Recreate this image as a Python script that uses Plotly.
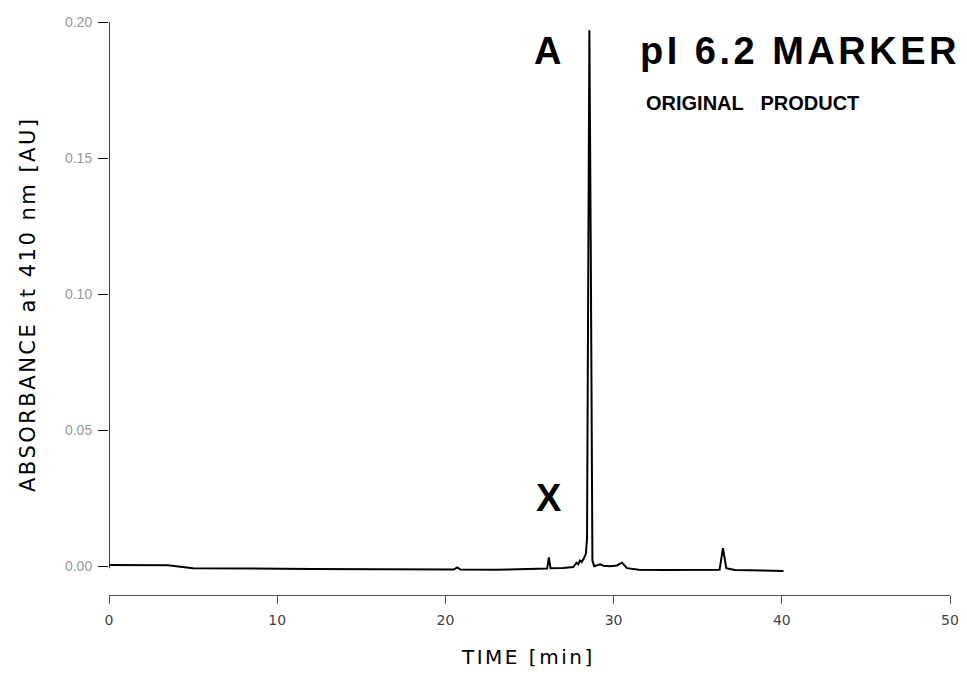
import plotly.graph_objects as go

# Chromatogram trace (time in min, absorbance in AU)
time_min = [0.0, 3.5, 5.0, 8.0, 12.0, 16.0, 19.0, 20.5, 20.7, 20.9, 23.0, 25.5,
            26.05, 26.15, 26.25, 27.0, 27.6, 27.8, 27.9, 28.0, 28.1, 28.25, 28.35,
            28.42, 28.5, 28.56, 28.64, 28.74, 28.85, 29.1, 29.2, 29.4, 29.8, 30.2,
            30.5, 30.8, 31.5, 33.0, 35.0, 36.3, 36.5, 36.7, 37.2, 38.5, 40.1]
absorbance = [0.0004, 0.0003, -0.0008, -0.0010, -0.0011, -0.0012, -0.0013, -0.0013,
              -0.0005, -0.0013, -0.0014, -0.0010, -0.0009, 0.0032, -0.0008, -0.0007,
              -0.0004, 0.0012, 0.0006, 0.0020, 0.0015, 0.0030, 0.0045, 0.0100, 0.1200,
              0.1970, 0.1200, 0.0020, -0.0001, 0.0003, 0.0006, 0.0001, -0.0001,
              0.0002, 0.0012, -0.0008, -0.0014, -0.0015, -0.0016, -0.0014, 0.0066,
              -0.0008, -0.0015, -0.0016, -0.0018]

x_ticks = [0, 10, 20, 30, 40, 50]
y_ticks = [0.00, 0.05, 0.10, 0.15, 0.20]

FONT = "DejaVu Sans"
SANS = "Liberation Sans"

fig = go.Figure()
fig.add_trace(go.Scatter(x=time_min, y=absorbance, mode="lines",
                         line=dict(color="black", width=2), showlegend=False,
                         hoverinfo="skip"))

L, R, T, B = 109, 17, 22, 79
W, H = 967, 674
plot_w = W - L - R
plot_h = H - T - B
y_bottom_px = 575
dom0 = (H - B - y_bottom_px) / plot_h
px_per_unit = (566 - 22) / 0.20
ymin = -(y_bottom_px - 566) / px_per_unit

fig.update_layout(
    width=W, height=H,
    margin=dict(l=L, r=R, t=T, b=B),
    plot_bgcolor="white", paper_bgcolor="white",
    font=dict(family=FONT, color="black"),
    xaxis=dict(range=[0, 50], tickvals=x_ticks, ticktext=[str(v) for v in x_ticks],
               showgrid=False, zeroline=False, showline=True, linecolor="#555",
               linewidth=1, ticks="outside", ticklen=8, tickcolor="#555",
               anchor="free", position=0, ticklabelstandoff=4, automargin=False,
               tickfont=dict(family=FONT, size=14, color="#444")),
    yaxis=dict(range=[ymin, 0.20], domain=[dom0, 1], tickvals=y_ticks,
               tickformat=".2f", showgrid=False, zeroline=False, showline=False,
               ticks="outside", ticklen=10, tickcolor="black", tickwidth=1,
               ticklabelstandoff=3, automargin=False,
               tickfont=dict(family=SANS, size=14, color="#999")),
)

# y-axis line (detached from the x-axis)
fig.add_shape(type="line", xref="x", yref="y", x0=0, x1=0, y0=-0.0008, y1=0.20,
              line=dict(color="black", width=1.5))


def px_x(p):
    return (p - L) / plot_w


def px_y(p):
    return (H - B - p) / plot_h


def label(text, x, y, size, xanchor="center", weight="normal", family=FONT, angle=0):
    fig.add_annotation(text=text, xref="paper", yref="paper", x=px_x(x), y=px_y(y),
                       xanchor=xanchor, yanchor="middle", textangle=angle,
                       showarrow=False,
                       font=dict(family=family, size=size, color="black", weight=weight))


label('<span style="letter-spacing:2.5px">ABSORBANCE at 410 nm [AU]</span>', 28, 304, 21, angle=-90)
label('<span style="letter-spacing:2.5px">TIME [min]</span>', 528, 657, 20)
label("A", 547, 51, 38, weight="bold", family=SANS)
label('<span style="letter-spacing:3.5px">pI 6.2 MARKER</span>', 638, 51, 38,
      xanchor="left", weight="bold", family=SANS)
label("ORIGINAL\u00a0\u00a0\u00a0PRODUCT", 644, 103, 20, xanchor="left",
      weight="bold", family=SANS)
label("X", 549, 498, 38, weight="bold", family=SANS)

fig.write_html("out.html", config={"displayModeBar": False},
               post_script="document.body.style.margin='0';document.body.style.overflow='hidden';")
